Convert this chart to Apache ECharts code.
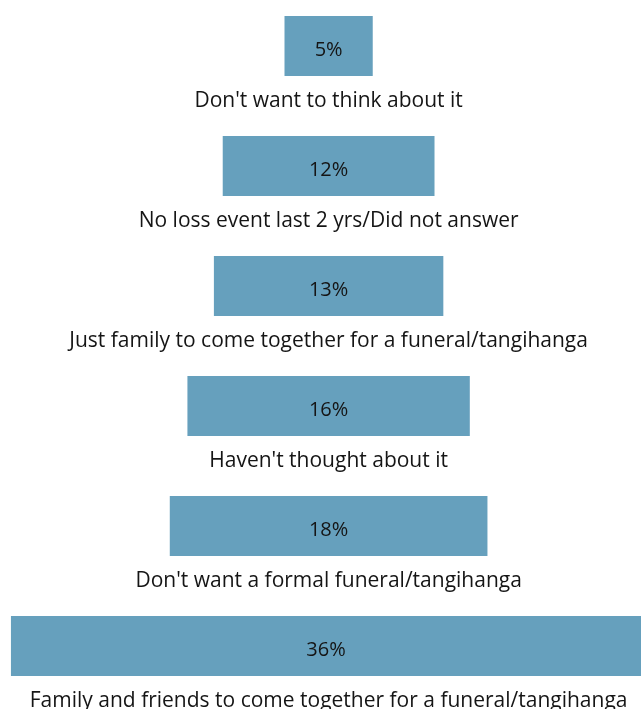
<!DOCTYPE html>
<html>
<head>
<meta charset="utf-8">
<style>
  html, body { margin: 0; padding: 0; background: #fff; }
  #chart { width: 641px; height: 709px; }
</style>
<script src="https://cdn.jsdelivr.net/npm/echarts@6/dist/echarts.min.js"></script>
</head>
<body>
<div id="chart"></div>
<script>
// Responses, smallest share at the top
const categories = [
  "Don't want to think about it",
  "No loss event last 2 yrs/Did not answer",
  "Just family to come together for a funeral/tangihanga",
  "Haven't thought about it",
  "Don't want a formal funeral/tangihanga",
  "Family and friends to come together for a funeral/tangihanga"
];
const values = [5, 12, 13, 16, 18, 36];

// Horizontal extent of the axis and the centre line the bars are laid around
const axisMax = 36.32;
const centre = 18.62;

const offsets = values.map(v => centre - v / 2);
const centreMarks = values.map(() => centre);

const chart = echarts.init(document.getElementById('chart'));
const font = '"Open Sans", sans-serif';

chart.setOption({
  animation: false,
  grid: { left: 0, right: 0, top: 46, bottom: 63 },
  xAxis: { type: 'value', min: 0, max: axisMax, show: false },
  yAxis: { type: 'category', data: categories, inverse: true, boundaryGap: false, show: false },
  series: [
    {
      type: 'bar', stack: 'c', data: offsets, barWidth: 60, barGap: '-100%',
      itemStyle: { color: 'transparent' }, silent: true
    },
    {
      type: 'bar', stack: 'c', data: values, barWidth: 60, barGap: '-100%',
      itemStyle: { color: '#66A0BD' },
      label: {
        show: true, position: 'inside', offset: [0, 4], formatter: p => p.value + '%',
        color: '#151515', fontSize: 20, fontFamily: font
      }
    },
    {
      type: 'bar', data: centreMarks, barWidth: 60, barGap: '-100%',
      itemStyle: { color: 'transparent' }, silent: true, z: 1,
      label: {
        show: true, position: ['100%', '124%'], align: 'center', verticalAlign: 'top',
        formatter: p => categories[p.dataIndex],
        color: '#151515', fontSize: 21, fontFamily: font
      }
    }
  ]
});
</script>
</body>
</html>
